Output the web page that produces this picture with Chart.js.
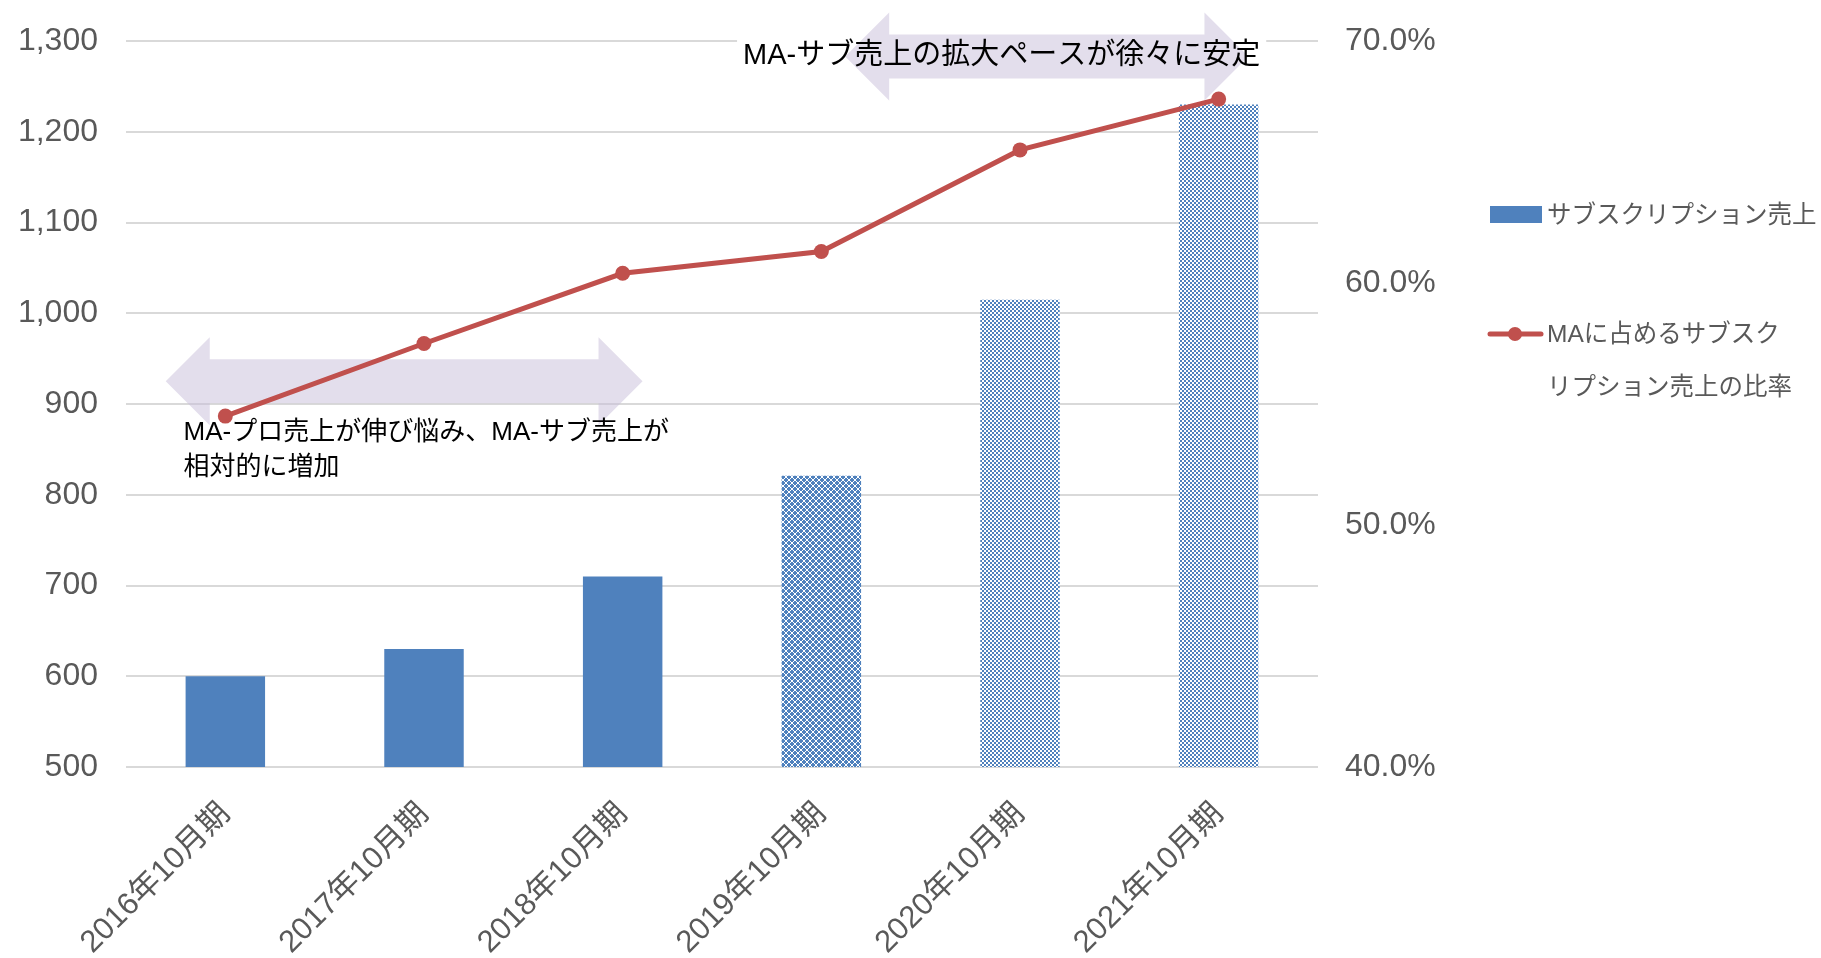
<!DOCTYPE html>
<html lang="ja">
<head>
<meta charset="UTF-8" />
<title>サブスクリプション売上の推移</title>
<script src="https://cdn.jsdelivr.net/npm/chart.js@4.4.1/dist/chart.umd.min.js"></script>
<style>
  html, body { margin: 0; padding: 0; background: #fff; }
  #wrap { position: relative; width: 1821px; height: 958px; }
</style>
</head>
<body>
<div id="wrap"><canvas id="chart" width="1821" height="958"></canvas></div>
<script>
// ---- data ----
const categories = ['2016年10月期', '2017年10月期', '2018年10月期', '2019年10月期', '2020年10月期', '2021年10月期'];
const subscriptionSales = [600, 630, 710, 821, 1015, 1230];
const subscriptionRatio = [54.5, 57.5, 60.4, 61.3, 65.5, 67.6];
const salesTicks = [500, 600, 700, 800, 900, 1000, 1100, 1200, 1300];
const ratioTicks = [40, 50, 60, 70];
const seriesNames = ['サブスクリプション売上', 'MAに占めるサブスクリプション売上の比率'];
const noteLower = ['MA-プロ売上が伸び悩み、MA-サブ売上が', '相対的に増加'];
const noteUpper = 'MA-サブ売上の拡大ペースが徐々に安定';

// ---- styling ----
const BLUE = '#4f81bd';
const RED = '#c0504d';
const GREY = '#595959';
const FONT = '"Liberation Sans", "Noto Sans CJK JP", sans-serif';

// hatched fills used for the later bars
function makePattern(kind) {
  const c = document.createElement('canvas');
  const g = c.getContext('2d');
  if (kind === 'cross') {
    c.width = c.height = 6;
    g.fillStyle = '#ffffff';
    g.fillRect(0, 0, 6, 6);
    g.fillStyle = BLUE;
    const plus = (cx, cy) => { g.fillRect(cx - 2, cy - 1, 4, 2); g.fillRect(cx - 1, cy - 2, 2, 4); };
    [[0, 0], [6, 0], [0, 6], [6, 6], [3, 3]].forEach(([px, py]) => plus(px, py));
  } else {
    c.width = c.height = 4;
    g.fillStyle = '#ffffff';
    g.fillRect(0, 0, 4, 4);
    g.fillStyle = BLUE;
    g.fillRect(0, 0, 2, 2);
    g.fillRect(2, 2, 2, 2);
  }
  return g.createPattern(c, 'repeat');
}
const crossFill = makePattern('cross');
const checkFill = makePattern('check');
const barFills = [BLUE, BLUE, BLUE, crossFill, checkFill, checkFill];

// double headed block arrow
function drawArrow(ctx, x0, x1, cy) {
  const head = 44, half = 44, shaft = 22;
  ctx.beginPath();
  ctx.moveTo(x0, cy);
  ctx.lineTo(x0 + head, cy - half);
  ctx.lineTo(x0 + head, cy - shaft);
  ctx.lineTo(x1 - head, cy - shaft);
  ctx.lineTo(x1 - head, cy - half);
  ctx.lineTo(x1, cy);
  ctx.lineTo(x1 - head, cy + half);
  ctx.lineTo(x1 - head, cy + shaft);
  ctx.lineTo(x0 + head, cy + shaft);
  ctx.lineTo(x0 + head, cy + half);
  ctx.closePath();
  ctx.fillStyle = 'rgba(200, 190, 218, 0.5)';
  ctx.fill();
}

// vertical axes: fixed width, no extra top/bottom padding from the labels
function fixWidth(width) {
  return (s) => {
    s.width = width;
    s.paddingTop = 0;
    s.paddingBottom = 0;
  };
}

const decor = {
  id: 'decor',
  beforeDatasetsDraw(chart) {
    const { ctx, scales: { x, y } } = chart;
    ctx.save();
    // white box behind the upper note
    ctx.font = '29px ' + FONT;
    const w = ctx.measureText(noteUpper).width;
    const tx = x.getPixelForValue(2.606), ty = y.getPixelForValue(1284);
    ctx.fillStyle = '#ffffff';
    ctx.fillRect(tx - 6, ty - 18, w + 12, 36);
    drawArrow(ctx, x.getPixelForValue(-0.3), x.getPixelForValue(2.1), y.getPixelForValue(925));
    drawArrow(ctx, x.getPixelForValue(3.12), x.getPixelForValue(5.15), y.getPixelForValue(1283));
    ctx.restore();
  },
  afterDatasetsDraw(chart) {
    const { ctx, scales: { x, y } } = chart;
    ctx.save();
    ctx.fillStyle = '#000000';
    ctx.textBaseline = 'middle';
    ctx.textAlign = 'left';
    ctx.font = '26px ' + FONT;
    const lx = x.getPixelForValue(-0.21), ly = y.getPixelForValue(868);
    noteLower.forEach((t, i) => ctx.fillText(t, lx, ly + i * 35));
    ctx.font = '29px ' + FONT;
    ctx.fillText(noteUpper, x.getPixelForValue(2.606), y.getPixelForValue(1284));
    ctx.restore();
  },
  afterDraw(chart) {
    // legend on the right
    const ctx = chart.ctx;
    ctx.save();
    ctx.fillStyle = BLUE;
    ctx.fillRect(1490, 206, 52, 17);
    ctx.strokeStyle = RED;
    ctx.lineWidth = 5;
    ctx.lineCap = 'round';
    ctx.beginPath();
    ctx.moveTo(1490, 334);
    ctx.lineTo(1541, 334);
    ctx.stroke();
    ctx.fillStyle = RED;
    ctx.beginPath();
    ctx.arc(1515, 334, 7, 0, Math.PI * 2);
    ctx.fill();
    ctx.fillStyle = GREY;
    ctx.font = '24.5px ' + FONT;
    ctx.textBaseline = 'middle';
    ctx.fillText(seriesNames[0], 1547, 216);
    ctx.fillText(seriesNames[1].slice(0, 10), 1547, 335);
    ctx.fillText(seriesNames[1].slice(10), 1547, 388);
    ctx.restore();
  }
};

new Chart(document.getElementById('chart'), {
  type: 'bar',
  data: {
    labels: categories,
    datasets: [
      {
        type: 'line',
        label: seriesNames[1],
        data: subscriptionRatio,
        yAxisID: 'y2',
        borderColor: RED,
        backgroundColor: RED,
        borderWidth: 5,
        pointRadius: 7.5,
        pointBorderWidth: 0,
        pointBackgroundColor: RED,
        tension: 0
      },
      {
        type: 'bar',
        label: seriesNames[0],
        data: subscriptionSales,
        yAxisID: 'y',
        backgroundColor: barFills,
        barPercentage: 0.4,
        categoryPercentage: 1
      }
    ]
  },
  options: {
    responsive: false,
    animation: false,
    layout: { padding: { top: 41, left: 0, right: 0, bottom: 0 } },
    plugins: { legend: { display: false }, tooltip: { enabled: false } },
    scales: {
      x: {
        grid: { display: false, drawTicks: false },
        border: { display: false },
        ticks: {
          color: GREY,
          font: { family: FONT, size: 31 },
          minRotation: 45,
          maxRotation: 45,
          autoSkip: false,
          padding: 29
        },
        afterFit: (s) => { s.height = 191; }
      },
      y: {
        position: 'left',
        min: salesTicks[0],
        max: salesTicks[salesTicks.length - 1],
        grid: { color: '#d9d9d9', lineWidth: 2, drawTicks: false },
        border: { display: false },
        afterBuildTicks: (s) => { s.ticks = salesTicks.map((v) => ({ value: v })); },
        ticks: {
          color: GREY,
          font: { family: FONT, size: 32 },
          padding: 28,
          callback: (v) => v.toLocaleString('en-US')
        },
        afterFit: fixWidth(126)
      },
      y2: {
        position: 'right',
        min: ratioTicks[0],
        max: ratioTicks[ratioTicks.length - 1],
        grid: { display: false, drawTicks: false },
        border: { display: false },
        afterBuildTicks: (s) => { s.ticks = ratioTicks.map((v) => ({ value: v })); },
        ticks: {
          color: GREY,
          font: { family: FONT, size: 32 },
          padding: 27,
          callback: (v) => v.toFixed(1) + '%'
        },
        afterFit: fixWidth(503)
      }
    }
  },
  plugins: [decor]
});
</script>
</body>
</html>
